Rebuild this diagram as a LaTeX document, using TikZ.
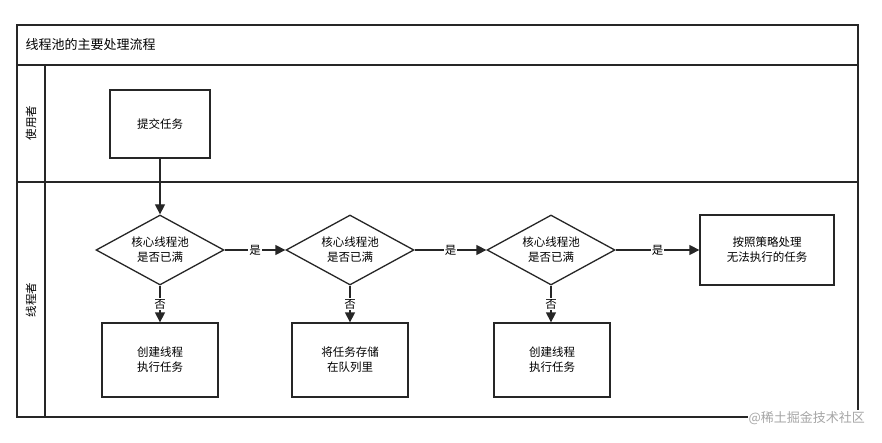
\documentclass[tikz,border=0pt]{standalone}
\usepackage{fontspec}
\setmainfont{Noto Sans CJK SC}
\usetikzlibrary{shapes.geometric,arrows.meta}
\begin{document}
\begin{tikzpicture}[x=1pt,y=-1pt,
  lane/.style={draw=black!85,line width=1.3pt},
  box/.style={draw=black!85,line width=1.3pt,fill=white,minimum width=100pt,minimum height=68pt,font=\fontsize{11.5}{15}\selectfont,align=center},
  dia/.style={draw=black!85,line width=1.3pt,fill=white,diamond,aspect=1.83,minimum width=128pt,minimum height=70pt,inner sep=0pt,font=\fontsize{11.5}{15}\selectfont,align=center},
  arr/.style={draw=black!85,line width=1.3pt,-{Triangle[length=10pt,width=10pt]}},
  lbl/.style={fill=white,inner sep=1pt,font=\fontsize{11.5}{13}\selectfont}]
\useasboundingbox (0,0) rectangle (882,443);
\fill[white] (0,0) rectangle (882,443);
\draw[lane] (17,25) rectangle (858,417);
\draw[lane] (17,65) -- (858,65);
\draw[lane] (17,182) -- (858,182);
\draw[lane] (45,65) -- (45,417);
\node[anchor=west,font=\fontsize{13}{15}\selectfont] (title) at (22,45) {线程池的主要处理流程};
\node[rotate=90,font=\fontsize{11.5}{13}\selectfont] (l1) at (31,123) {使用者};
\node[rotate=90,font=\fontsize{11.5}{13}\selectfont] (l2) at (31,300) {线程者};
\node[box] (s) at (160,124) {提交任务};
\node[dia] (d1) at (160,250) {核心线程池\\是否已满};
\node[dia] (d2) at (350,250) {核心线程池\\是否已满};
\node[dia] (d3) at (551,250) {核心线程池\\是否已满};
\node[box,minimum width=134pt,minimum height=70pt] (p) at (767,250) {按照策略处理\\无法执行的任务};
\node[box,minimum width=116pt,minimum height=74pt] (b1) at (160,360) {创建线程\\执行任务};
\node[box,minimum width=116pt,minimum height=74pt] (b2) at (350,360) {将任务存储\\在队列里};
\node[box,minimum width=116pt,minimum height=74pt] (b3) at (552,360) {创建线程\\执行任务};
\draw[arr] (s) -- (d1);
\draw[arr] (d1) -- node[lbl]{是} (d2);
\draw[arr] (d2) -- node[lbl]{是} (d3);
\draw[arr] (d3) -- node[lbl]{是} (p);
\draw[arr] (d1) -- node[lbl]{否} (b1);
\draw[arr] (d2) -- node[lbl]{否} (b2);
\draw[arr] (d3.south) -- node[lbl]{否} (b3.north -| d3.south);
\node[anchor=east,text=black!35,fill=white,inner sep=1pt,font=\fontsize{13}{15}\selectfont] (wm) at (866,418) {@稀土掘金技术社区};
\end{tikzpicture}
\end{document}
